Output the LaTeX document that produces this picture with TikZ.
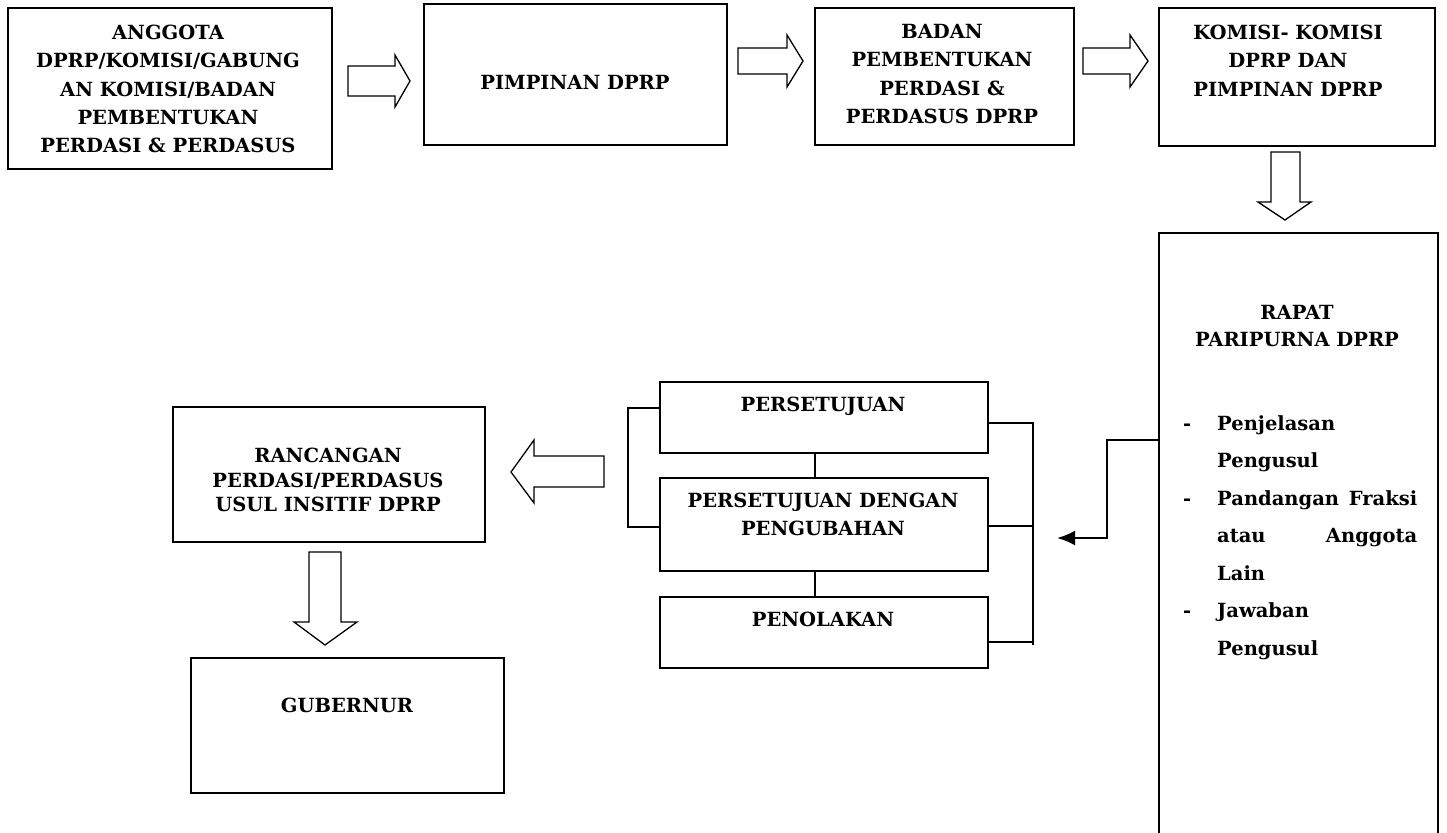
\documentclass[tikz,border=0pt]{standalone}
\usepackage{fontspec}
\setmainfont{DejaVu Serif}
\usepackage{tikz}
\usetikzlibrary{calc,arrows.meta}
\def\boxfont{\fontsize{19.5}{28.3}\selectfont\bfseries}

\begin{document}
\begin{tikzpicture}[x=1pt, y=-1pt,
		box/.style={draw, line width=1.8pt, anchor=north west, inner sep=0pt},
		lbl/.style={font=\boxfont, align=center, inner sep=0pt, anchor=north},
		hollow/.style={draw, line width=1.3pt, fill=white, line join=miter},
		link/.style={line width=1.8pt},
		elbow/.style={line width=2.4pt, -{Latex[length=18pt, width=15pt]}}]
		%%%%% START %%%%%
		
		\useasboundingbox (0, 0) rectangle (1447, 832);
		\clip (0, 0) rectangle (1447, 832);
		
		% top row
		\node[box, minimum width=324pt, minimum height=161pt] (anggota) at (7, 7) {};
		\node[lbl] (anggota-t) at (168, 25) {ANGGOTA\\DPRP/KOMISI/GABUNG\\AN KOMISI/BADAN\\PEMBENTUKAN\\PERDASI \& PERDASUS};
		
		\node[box, minimum width=303pt, minimum height=141pt] (pimpinan) at (423, 3) {};
		\node[lbl] (pimpinan-t) at (575, 75) {PIMPINAN DPRP};
		
		\node[box, minimum width=259pt, minimum height=137pt] (badan) at (814, 7) {};
		\node[lbl] (badan-t) at (942, 24) {BADAN\\PEMBENTUKAN\\PERDASI \&\\PERDASUS DPRP};
		
		\node[box, minimum width=276pt, minimum height=138pt] (komisi) at (1158, 7) {};
		\node[lbl] (komisi-t) at (1288, 25) {KOMISI- KOMISI\\DPRP DAN\\PIMPINAN DPRP};
		
		\draw[hollow] (348, 66) -- (395, 66) -- (395, 55) -- (410, 81) -- (395, 107) -- (395, 96) -- (348, 96) -- cycle;
		\draw[hollow] (738, 48) -- (787, 48) -- (787, 35) -- (803, 61) -- (787, 87) -- (787, 74) -- (738, 74) -- cycle;
		\draw[hollow] (1083, 48) -- (1130, 48) -- (1130, 35) -- (1148, 61) -- (1130, 87) -- (1130, 74) -- (1083, 74) -- cycle;
		\draw[hollow] (1271, 152) -- (1271, 202) -- (1258, 202) -- (1285, 220) -- (1311, 202) -- (1300, 202) -- (1300, 152) -- cycle;
		
		% rapat paripurna (runs off the page)
		\node[box, minimum width=279pt, minimum height=700pt] (rapat) at (1158, 232) {};
		\node[lbl, font=\fontsize{19.5}{27}\selectfont\bfseries] (rapat-t) at (1297, 305) {RAPAT\\PARIPURNA DPRP};
		\node[lbl, anchor=north west, align=left, font=\fontsize{19.5}{37.5}\selectfont\bfseries] (rapat-l) at (1183, 415)
			{\makebox[34pt][l]{-}Penjelasan\\
			 \hspace*{34pt}Pengusul\\
			 \makebox[34pt][l]{-}\makebox[200pt][s]{Pandangan\hfill Fraksi}\\
			 \hspace*{34pt}\makebox[200pt][s]{atau\hfill Anggota}\\
			 \hspace*{34pt}Lain\\
			 \makebox[34pt][l]{-}Jawaban\\
			 \hspace*{34pt}Pengusul};
		
		\coordinate (tip) at (1057, 538);
		\draw[elbow] ([yshift=-208pt]rapat.north west) -- ++(-51, 0) |- (tip);
		
		% keputusan
		\node[box, minimum width=328pt, minimum height=71pt] (setuju) at (659, 381) {};
		\node[lbl] (setuju-t) at (823, 397) {PERSETUJUAN};
		\node[box, minimum width=328pt, minimum height=93pt] (ubah) at (659, 477) {};
		\node[lbl] (ubah-t) at (823, 493) {PERSETUJUAN DENGAN\\PENGUBAHAN};
		\node[box, minimum width=328pt, minimum height=71pt] (tolak) at (659, 596) {};
		\node[lbl] (tolak-t) at (823, 612) {PENOLAKAN};
		
		\draw[link] ([xshift=-9pt]setuju.south) -- ([xshift=-9pt]ubah.north);
		\draw[link] ([xshift=-9pt]ubah.south) -- ([xshift=-9pt]tolak.north);
		\draw[link] ([yshift=9.5pt]setuju.west) -- ++(-31, 0) |- ([yshift=-2.5pt]ubah.west);
		\coordinate (rb) at (1033, 645);
		\draw[link] ([yshift=-5.5pt]setuju.east) -| (rb);
		\draw[link] ([yshift=-1.5pt]ubah.east) -- ([yshift=-1.5pt]ubah.east -| rb);
		\draw[link] ([yshift=-9.5pt]tolak.east) -- ([yshift=-9.5pt]tolak.east -| rb);
		
		\draw[hollow] (604, 456) -- (534, 456) -- (534, 440) -- (511, 472) -- (534, 503) -- (534, 487) -- (604, 487) -- cycle;
		
		% rancangan dan gubernur
		\node[box, minimum width=312pt, minimum height=135pt] (rancang) at (172, 406) {};
		\node[lbl, font=\fontsize{19.5}{24.5}\selectfont\bfseries] (rancang-t) at (328, 448) {RANCANGAN\\PERDASI/PERDASUS\\USUL INSITIF DPRP};
		
		\draw[hollow] (309, 552) -- (309, 622) -- (294, 622) -- (325, 645) -- (357, 622) -- (341, 622) -- (341, 552) -- cycle;
		
		\node[box, minimum width=313pt, minimum height=135pt] (gub) at (190, 657) {};
		\node[lbl] (gub-t) at (347, 698) {GUBERNUR};
		
		%%%%% END %%%%%
	\end{tikzpicture}
\end{document}
